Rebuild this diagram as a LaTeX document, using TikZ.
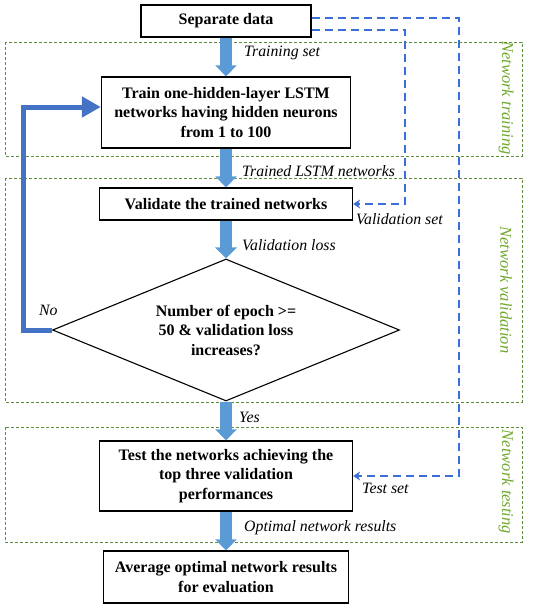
\documentclass[tikz,border=0pt]{standalone}
\usepackage{fontspec}
\setmainfont{Liberation Serif}
\usetikzlibrary{arrows.meta, shapes.geometric}
\definecolor{flowblue}{HTML}{5B9BD5}
\definecolor{loopblue}{HTML}{4472C4}
\definecolor{setblue}{HTML}{3B6FD6}
\definecolor{phasegreen}{HTML}{5F8C3A}
\definecolor{sidegreen}{HTML}{6FA82B}

\begin{document}
\begin{tikzpicture}[x=1pt, y=-1pt,
  box/.style={draw, line width=1.3pt, fill=white, align=center, font=\fontsize{16}{19.5}\selectfont\bfseries, inner sep=2pt},
  dec/.style={draw, diamond, shape aspect=2.4, line width=1.1pt, align=center, font=\fontsize{16}{19.5}\selectfont\bfseries, inner sep=0pt, minimum width=347pt, minimum height=142pt},
  flow/.style={draw=flowblue, line width=12.4pt, -{Triangle[width=21pt, length=11pt]}},
  back/.style={draw=loopblue, line width=5pt, -{Triangle[width=20pt, length=19pt]}},
  dset/.style={draw=setblue, line width=1.6pt, dash pattern=on 8pt off 5pt, -{Stealth[width=9pt, length=7pt]}},
  phase/.style={draw=phasegreen, line width=0.9pt, dash pattern=on 3pt off 2pt},
  tag/.style={font=\fontsize{15.8}{17}\selectfont\itshape, inner sep=0pt, anchor=west},
  side/.style={font=\fontsize{16.5}{18}\selectfont\itshape, text=sidegreen, rotate=-90, inner sep=0pt}]
  \useasboundingbox (0,0) rectangle (536,613);

  % phases
  \draw[phase] (5,42) rectangle (522,156);
  \draw[phase] (5,178) rectangle (522,402);
  \draw[phase] (5,427) rectangle (522,542);
  \node[side] (ptrain) at (506,98) {Network training};
  \node[side] (pvalid) at (506,290) {Network validation};
  \node[side] (ptest) at (506,482) {Network testing};

  % steps
  \node[box, minimum width=170pt, minimum height=32pt] (sep) at (226,21) {Separate data};
  \node[box, minimum width=249pt, minimum height=71pt] (train) at (226,112.5) {Train one-hidden-layer LSTM\\networks having hidden neurons\\from 1 to 100};
  \node[box, minimum width=253pt, minimum height=32pt] (valid) at (226,204) {Validate the trained networks};
  \node[dec] (check) at (226,330) {Number of epoch >=\\50 \& validation loss\\increases?};
  \node[box, minimum width=253pt, minimum height=70pt] (test) at (226,476) {Test the networks achieving the\\top three validation\\performances};
  \node[box, minimum width=245pt, minimum height=52pt] (avg) at (226,577) {Average optimal network results\\for evaluation};

  \draw[flow] (sep) -- (train);
  \draw[flow] (train) -- (valid);
  \draw[flow] (valid) -- (check);
  \draw[flow] (check) -- (test);
  \draw[flow] (test) -- (avg);

  % loop back
  \coordinate (up) at (23,107);
  \draw[back] (check.west) -| (up) -- ([yshift=5.5pt]train.west);

  % data sets
  \coordinate (vc) at (405,204);
  \coordinate (tc) at (459,476);
  \draw[dset] ([yshift=-9pt]sep.east) -| (vc) -- (valid.east);
  \draw[dset] ([yshift=3pt]sep.east) -| (tc) -- (test.east);

  % labels
  \node[tag] (ltrain) at (244,53) {Training set};
  \node[tag] (lnets) at (242,171) {Trained LSTM networks};
  \node[tag] (lvset) at (356,219) {Validation set};
  \node[tag] (lloss) at (242,245) {Validation loss};
  \node[tag] (lno) at (39,310) {No};
  \node[tag] (lyes) at (239,417) {Yes};
  \node[tag] (ltset) at (362,488) {Test set};
  \node[tag] (lopt) at (244,528) {Optimal network results};
\end{tikzpicture}
\end{document}
